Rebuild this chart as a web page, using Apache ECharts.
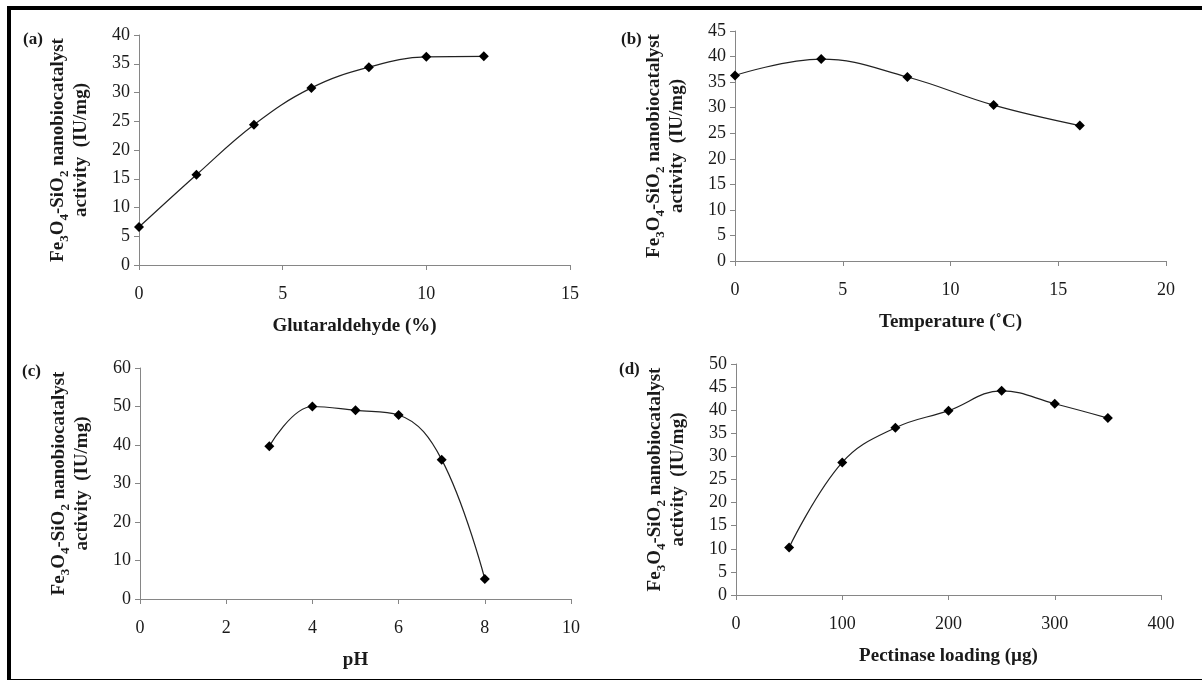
<!DOCTYPE html>
<html>
<head>
<meta charset="utf-8">
<style>
  html, body { margin: 0; padding: 0; background: #fff; }
  #chart { width: 1202px; height: 681px; }
</style>
<script src="https://cdn.jsdelivr.net/npm/echarts@6/dist/echarts.min.js"></script>
</head>
<body>
<div id="chart"></div>
<script>
// --- DATA ---
const glutX = [0, 2, 4, 6, 8, 10, 12];
const glutY = [6.6, 15.7, 24.4, 30.8, 34.4, 36.2, 36.3];

const tempX = [0, 4, 8, 12, 16];
const tempY = [36.3, 39.5, 36.0, 30.5, 26.5];

const phX = [3, 4, 5, 6, 7, 8];
const phY = [39.7, 50.0, 49.0, 47.8, 36.2, 5.2];

const loadX = [50, 100, 150, 200, 250, 300, 350];
const loadY = [10.3, 28.7, 36.2, 39.9, 44.2, 41.4, 38.3];

const panelLabels = ['(a)', '(b)', '(c)', '(d)'];
const xNames = ['Glutaraldehyde (%)', 'Temperature (\u02DAC)', 'pH', 'Pectinase loading (\u00B5g)'];

// --- STYLE HELPERS ---
const serif = '"Liberation Serif", "Times New Roman", serif';
const axisGray = '#868686';
const textCol = '#1a1a1a';

const yName = '{n|Fe}{s|3}{n|O}{s|4}{n|-SiO}{s|2}{n| nanobiocatalyst}\n{n|activity  (IU/mg)}';

const grids = [
  { left: 139, top: 35, width: 431, height: 230 },
  { left: 735, top: 31, width: 431, height: 230 },
  { left: 140, top: 368, width: 431, height: 231 },
  { left: 736, top: 364, width: 425, height: 231 }
];

const xRanges = [[0, 15, 5], [0, 20, 5], [0, 10, 2], [0, 400, 100]];
const yRanges = [[0, 40, 5], [0, 45, 5], [0, 60, 10], [0, 50, 5]];
const seriesData = [[glutX, glutY], [tempX, tempY], [phX, phY], [loadX, loadY]];

const axisLine = { show: true, lineStyle: { color: axisGray, width: 1 } };
const axisTick = { show: true, length: 5, lineStyle: { color: axisGray, width: 1 } };

const xAxes = xRanges.map(([min, max, interval], i) => ({
  type: 'value', gridIndex: i, min, max, interval,
  axisLine, axisTick, splitLine: { show: false },
  axisLabel: { fontFamily: serif, fontSize: 18, color: textCol, margin: 20 },
  name: xNames[i], nameLocation: 'middle', nameGap: 52,
  nameTextStyle: { fontFamily: serif, fontSize: 19, fontWeight: 'bold', color: textCol }
}));

const yAxes = yRanges.map(([min, max, interval], i) => ({
  type: 'value', gridIndex: i, min, max, interval,
  axisLine, axisTick, splitLine: { show: false },
  axisLabel: { fontFamily: serif, fontSize: 18, color: textCol, margin: 9 },
  name: yName, nameLocation: 'middle', nameRotate: 90, nameGap: 45,
  nameTextStyle: {
    fontFamily: serif, fontSize: 19, fontWeight: 'bold', color: textCol, lineHeight: 23,
    rich: {
      n: { fontFamily: serif, fontSize: 19, fontWeight: 'bold', color: textCol, verticalAlign: 'bottom', padding: [0, 0, 3, 0] },
      s: { fontFamily: serif, fontSize: 13, fontWeight: 'bold', color: textCol, verticalAlign: 'bottom' }
    }
  }
}));

const series = seriesData.map(([xs, ys], i) => ({
  type: 'line', xAxisIndex: i, yAxisIndex: i,
  data: xs.map((x, k) => [x, ys[k]]),
  smooth: 0.4,
  symbol: 'diamond', symbolSize: 10,
  itemStyle: { color: '#000' },
  lineStyle: { color: '#222', width: 1.2 }
}));

const panelPos = [[23, 31], [621, 31], [22, 363], [619, 361]];

const graphics = [
  // frame: thick top and left, thin bottom
  { type: 'rect', shape: { x: 7, y: 6, width: 1195, height: 4 }, style: { fill: '#000' } },
  { type: 'rect', shape: { x: 7, y: 6, width: 4, height: 674 }, style: { fill: '#000' } },
  { type: 'rect', shape: { x: 7, y: 679, width: 1195, height: 1 }, style: { fill: '#000' } },
  ...panelLabels.map((t, i) => ({
    type: 'text', left: panelPos[i][0], top: panelPos[i][1],
    style: { text: t, font: 'bold 17px ' + serif, fill: textCol }
  }))
];

const chart = echarts.init(document.getElementById('chart'));
chart.setOption({
  animation: false,
  backgroundColor: '#fff',
  grid: grids,
  xAxis: xAxes,
  yAxis: yAxes,
  series,
  graphic: graphics
});
</script>
</body>
</html>
